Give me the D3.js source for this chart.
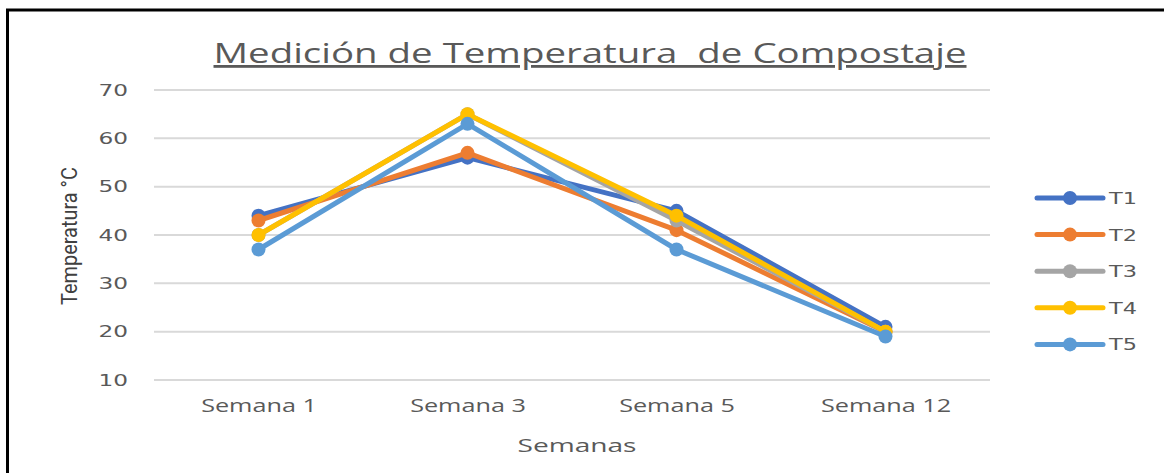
<!DOCTYPE html>
<html>
<head>
<meta charset="utf-8">
<script src="https://cdn.jsdelivr.net/npm/d3@7"></script>
<style>
  body { margin: 0; background: #fff; }
  svg { display: block; }
</style>
</head>
<body>
<script>
// data
var semanas = ["Semana 1", "Semana 3", "Semana 5", "Semana 12"];
var seriesNames = ["T1", "T2", "T3", "T4", "T5"];
var t1 = [44, 56, 45, 21];
var t2 = [43, 57, 41, 20];
var t3 = [40, 65, 43, 20];
var t4 = [40, 65, 44, 20];
var t5 = [37, 63, 37, 19];
var yTicks = [10, 20, 30, 40, 50, 60, 70];
var colors = ["#4472c4", "#ed7d31", "#a5a5a5", "#ffc000", "#5b9bd5"];

var w = 1164, h = 473;
var plotLeft = 154, plotRight = 990, plotTop = 90, plotBottom = 380;

// the original picture is stretched sideways, so widen the text to match
function stretch(sel, k) {
    sel.each(function() {
        var len = this.getComputedTextLength();
        d3.select(this).attr("textLength", len * k).attr("lengthAdjust", "spacingAndGlyphs");
    });
}

var svg = d3.select("body").append("svg")
    .attr("width", w)
    .attr("height", h);

// frame
svg.append("line").attr("x1", 7.5).attr("x2", 7.5).attr("y1", 9).attr("y2", h)
   .attr("stroke", "#000").attr("stroke-width", 3);
svg.append("line").attr("x1", 6).attr("x2", w).attr("y1", 10).attr("y2", 10)
   .attr("stroke", "#000").attr("stroke-width", 3);

var x = d3.scalePoint().domain(semanas).range([plotLeft, plotRight]).padding(0.5);
var y = d3.scaleLinear().domain([10, 70]).range([plotBottom, plotTop]);

// gridlines
svg.append("g").selectAll("line")
   .data(yTicks).enter().append("line")
   .attr("x1", plotLeft).attr("x2", plotRight)
   .attr("y1", function(d) { return y(d); })
   .attr("y2", function(d) { return y(d); })
   .attr("stroke", "#d9d9d9").attr("stroke-width", 2);

// y axis labels
var yAxis = d3.axisLeft(y).tickValues(yTicks).tickSize(0).tickPadding(26);
var gy = svg.append("g").attr("transform", "translate(" + plotLeft + ",0)").call(yAxis);
gy.select(".domain").remove();
gy.selectAll("text").attr("font-family", "'DejaVu Sans', sans-serif")
  .attr("font-size", "16px").attr("fill", "#595959");
stretch(gy.selectAll("text"), 1.45);

// x axis labels
var xAxis = d3.axisBottom(x).tickSize(0).tickPadding(19);
var gx = svg.append("g").attr("transform", "translate(0," + plotBottom + ")").call(xAxis);
gx.select(".domain").remove();
gx.selectAll("text").attr("font-family", "'Open Sans', sans-serif")
  .attr("font-size", "18px").attr("fill", "#595959");
stretch(gx.selectAll("text"), 1.4);

// title
var title = svg.append("text")
   .attr("x", 590).attr("y", 63)
   .attr("text-anchor", "middle")
   .attr("font-family", "'Open Sans', sans-serif")
   .attr("font-size", "28px")
   .attr("fill", "#595959")
   .attr("text-decoration", "underline")
   .style("white-space", "pre")
   .text("Medición de Temperatura  de Compostaje");
title.attr("textLength", 753).attr("lengthAdjust", "spacingAndGlyphs");

// axis titles
svg.append("text")
   .attr("x", 577).attr("y", 452)
   .attr("text-anchor", "middle")
   .attr("font-family", "'Open Sans', sans-serif")
   .attr("font-size", "19px").attr("fill", "#595959")
   .attr("textLength", 119).attr("lengthAdjust", "spacingAndGlyphs")
   .text("Semanas");

svg.append("text")
   .attr("transform", "translate(77,236) rotate(-90)")
   .attr("text-anchor", "middle")
   .attr("font-family", "'Liberation Sans Narrow', 'Roboto', sans-serif")
   .attr("font-size", "22px").attr("fill", "#404040")
   .attr("textLength", 138).attr("lengthAdjust", "spacingAndGlyphs")
   .text("Temperatura °C");

// series
var series = [t1, t2, t3, t4, t5].map(function(vals, i) {
    return { name: seriesNames[i], color: colors[i], values: vals };
});

var line = d3.line()
    .x(function(d, i) { return x(semanas[i]); })
    .y(function(d) { return y(d); });

var sg = svg.selectAll("g.series")
   .data(series).enter().append("g").attr("class", "series");

sg.append("path")
  .attr("d", function(d) { return line(d.values); })
  .attr("fill", "none")
  .attr("stroke", function(d) { return d.color; })
  .attr("stroke-width", 5)
  .attr("stroke-linejoin", "round");

sg.selectAll("circle")
  .data(function(d) { return d.values.map(function(v, i) { return { v: v, i: i, c: d.color }; }); })
  .enter().append("circle")
  .attr("cx", function(d) { return x(semanas[d.i]); })
  .attr("cy", function(d) { return y(d.v); })
  .attr("r", 7)
  .attr("fill", function(d) { return d.c; });

// legend
var lg = svg.selectAll("g.legend")
   .data(series).enter().append("g").attr("class", "legend")
   .attr("transform", function(d, i) { return "translate(1037," + (198 + i * 36.6) + ")"; });

lg.append("line").attr("x1", 0).attr("x2", 66).attr("y1", 0).attr("y2", 0)
  .attr("stroke", function(d) { return d.color; }).attr("stroke-width", 5)
  .attr("stroke-linecap", "round");
lg.append("circle").attr("cx", 33).attr("cy", 0).attr("r", 7)
  .attr("fill", function(d) { return d.color; });
var lt = lg.append("text").attr("x", 72).attr("y", 6)
  .attr("font-family", "'DejaVu Sans', sans-serif")
  .attr("font-size", "16px").attr("fill", "#595959")
  .text(function(d) { return d.name; });
stretch(lt, 1.4);
</script>
</body>
</html>
